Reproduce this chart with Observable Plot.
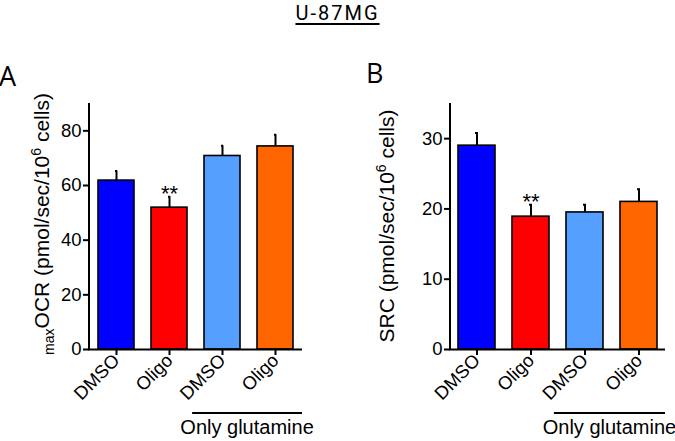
<!DOCTYPE html>
<html><head><meta charset="utf-8">
<script src="https://cdn.jsdelivr.net/npm/d3@7"></script>
<script src="https://cdn.jsdelivr.net/npm/@observablehq/plot@0.6"></script>
<style>
body{margin:0;background:#fff;}
#wrap{position:relative;width:675px;height:441px;overflow:hidden;background:#fff;font-family:"Liberation Sans",Arial,sans-serif;}
#title{position:absolute;left:0;width:675px;top:1px;text-align:center;font-family:Roboto;font-size:20px;line-height:24px;letter-spacing:2px;}
#title span{text-decoration:underline;text-decoration-thickness:1.5px;text-underline-offset:3px;}
.panel{position:absolute;top:0;}
.lab{position:absolute;font-family:"Open Sans";font-size:27px;line-height:1;}
</style></head><body>
<div id="wrap">
 <div id="pA" class="panel" style="left:0"></div>
 <div id="pB" class="panel" style="left:340px"></div>
 <div id="title"><span>U-87MG</span></div>
 <div class="lab" style="left:-1px;top:62px">A</div>
 <div class="lab" style="left:366px;top:59px">B</div>
</div>
<script>
const ids = ["c1","c2","c3","c4"];
const conditions = ["DMSO","Oligo","DMSO","Oligo"];
const barColors = ["#0000ff","#ff0000","#55a0ff","#ff6600"];
const ocrMean = [61.8, 51.9, 70.8, 74.3];
const ocrSem = [3.5, 4.0, 3.7, 4.3];
const srcMean = [29.0, 18.9, 19.5, 21.0];
const srcSem = [1.8, 1.7, 1.1, 1.8];
const significance = ["", "**", "", ""];
const ocrTicks = [0, 20, 40, 60, 80];
const srcTicks = [0, 10, 20, 30];
const groupLabel = "Only glutamine";
const groupIds = ["c3", "c4"];

function panel(el, opts) {
  const {mean, sem, ticks, ymax, width, marginLeft, marginRight, labelX, labelY, label} = opts;
  const data = ids.map((id, i) => ({id, color: barColors[i], mean: mean[i], top: mean[i] + sem[i], sig: significance[i]}));
  const fmt = d => conditions[ids.indexOf(d)];
  const chart = Plot.plot({
    width, height: 441, marginLeft, marginRight, marginTop: 103, marginBottom: 92,
    style: {fontFamily: "Liberation Sans, Arial, sans-serif", fontSize: "18px", color: "black", background: "white", overflow: "visible"},
    x: {type: "band", domain: ids, paddingInner: 0.32, paddingOuter: 0.15, tickFormat: fmt},
    y: {domain: [0, ymax]},
    color: {type: "identity"},
    marks: [
      Plot.ruleX(data, {x: "id", y1: "mean", y2: "top", strokeWidth: 2}),
      Plot.tickY(data, {x: "id", y: "top", strokeWidth: 2, insetLeft: 17, insetRight: 17}),
      Plot.barY(data, {x: "id", y: "mean", fill: "color", stroke: "black", strokeWidth: 1.6}),
      Plot.text(data, {x: "id", y: "top", text: "sig", lineAnchor: "bottom", dy: 4, fontSize: 22}),
      Plot.ruleY([0], {strokeWidth: 2, insetLeft: -1}),
      Plot.axisY({ticks, tickSize: 6, tickPadding: 2, strokeWidth: 2, label: null, fontSize: 18.5}),
      Plot.axisX({tickSize: 6, tickPadding: 2, tickRotate: -45, tickFormat: fmt, strokeWidth: 2, label: null, fontSize: 18.5})
    ]
  });
  el.appendChild(chart);
  const svg = d3.select(chart);
  const xs = chart.scale("x"), ys = chart.scale("y");
  const x0 = xs.range[0], x1 = xs.range[1];
  svg.append("line").attr("x1", x0).attr("x2", x0).attr("y1", ys.range[0] + 1).attr("y2", ys.range[1])
    .attr("stroke", "black").attr("stroke-width", 2);
  const t = svg.append("text").attr("transform", `translate(${labelX},${labelY}) rotate(-90)`)
    .attr("text-anchor", "middle").attr("font-size", 21).attr("fill", "black");
  label(t);
  const step = xs.step, pad = xs.paddingInner;
  const gx1 = xs.apply(groupIds[0]) - step * pad * 0.7;
  const gx2 = x1;
  const gy = ys.range[0] + 64;
  svg.append("line").attr("x1", gx1).attr("x2", gx2).attr("y1", gy).attr("y2", gy)
    .attr("stroke", "black").attr("stroke-width", 2);
  svg.append("text").attr("x", (gx1 + gx2) / 2).attr("y", gy + 21).attr("text-anchor", "middle")
    .attr("font-size", 20).attr("fill", "black").text(groupLabel);
}

panel(document.getElementById("pA"), {
  mean: ocrMean, sem: ocrSem, ticks: ocrTicks, ymax: 90, width: 340, marginLeft: 89, marginRight: 38,
  labelX: 49, labelY: 224,
  label: t => {
    t.append("tspan").attr("font-size", 14).attr("dy", 5).text("max");
    t.append("tspan").attr("dy", -5).text("OCR (pmol/sec/10");
    t.append("tspan").attr("font-size", 14).attr("dy", -8).text("6");
    t.append("tspan").attr("dy", 8).text(" cells)");
  }
});
panel(document.getElementById("pB"), {
  mean: srcMean, sem: srcSem, ticks: srcTicks, ymax: 35, width: 335, marginLeft: 110, marginRight: 10,
  labelX: 54, labelY: 226,
  label: t => {
    t.append("tspan").text("SRC (pmol/sec/10");
    t.append("tspan").attr("font-size", 14).attr("dy", -8).text("6");
    t.append("tspan").attr("dy", 8).text(" cells)");
  }
});
</script>
</body></html>
